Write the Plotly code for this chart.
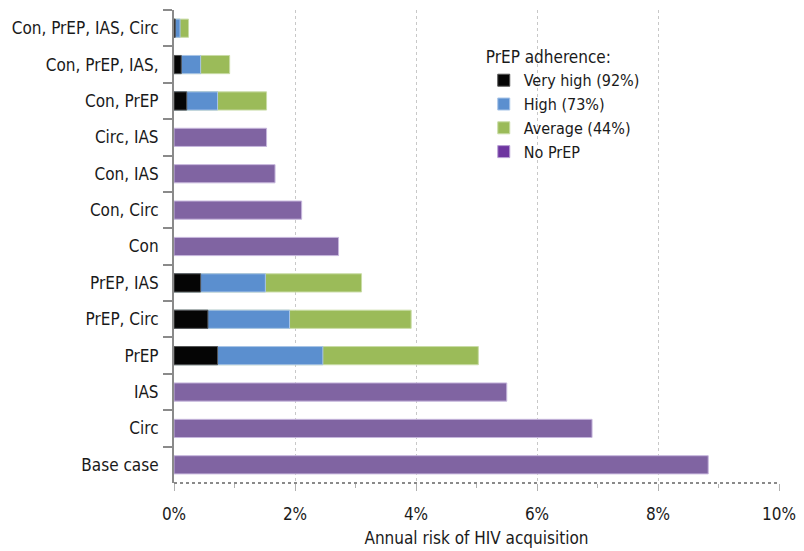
import plotly.graph_objects as go

# Categories, top to bottom as drawn
categories = ["Con, PrEP, IAS, Circ", "Con, PrEP, IAS,", "Con, PrEP", "Circ, IAS",
              "Con, IAS", "Con, Circ", "Con", "PrEP, IAS", "PrEP, Circ", "PrEP",
              "IAS", "Circ", "Base case"]

# Scenarios that include PrEP: annual risk (%) by adherence level
prep_categories = ["Con, PrEP, IAS, Circ", "Con, PrEP, IAS,", "Con, PrEP",
                   "PrEP, IAS", "PrEP, Circ", "PrEP"]
risk_very_high = [0.02, 0.12, 0.21, 0.44, 0.56, 0.72]
risk_high = [0.10, 0.44, 0.72, 1.51, 1.91, 2.46]
risk_average = [0.24, 0.92, 1.53, 3.10, 3.92, 5.03]

# Scenarios without PrEP
noprep_categories = ["Circ, IAS", "Con, IAS", "Con, Circ", "Con", "IAS", "Circ", "Base case"]
risk_no_prep = [1.53, 1.67, 2.11, 2.72, 5.50, 6.91, 8.83]

x_ticks = [0, 2, 4, 6, 8, 10]

FONT = "Liberation Sans Narrow, DejaVu Sans Condensed, Arial Narrow, sans-serif"
TXT = "#1a1a1a"

fig = go.Figure()

# Overlaid bars: longest (average) drawn first, shorter on top
fig.add_trace(go.Bar(y=prep_categories, x=risk_average, orientation="h",
                     name="Average (44%)", legendrank=3,
                     marker=dict(color="#9BBB59", line=dict(color="#c9dca6", width=1))))
fig.add_trace(go.Bar(y=prep_categories, x=risk_high, orientation="h",
                     name="High (73%)", legendrank=2,
                     marker=dict(color="#5B8FCF", line=dict(color="#a9c5e8", width=1))))
fig.add_trace(go.Bar(y=prep_categories, x=risk_very_high, orientation="h",
                     name="Very high (92%)", legendrank=1,
                     marker=dict(color="#050505", line=dict(color="#555555", width=1))))
fig.add_trace(go.Bar(y=noprep_categories, x=risk_no_prep, orientation="h",
                     name="No PrEP", showlegend=False,
                     marker=dict(color="#8064A2", line=dict(color="#c6b6dc", width=1))))
# legend entry for No PrEP (legend swatch is a deeper purple in the reference)
fig.add_trace(go.Bar(y=[None], x=[None], orientation="h", name="No PrEP", legendrank=4,
                     marker=dict(color="#6E35A0", line=dict(color="#b9a0d4", width=1))))

# The page body has an 8px default margin, so the figure is sized to fit the window
fig.update_layout(
    width=796, height=543,
    barmode="overlay", bargap=0.5,
    plot_bgcolor="white", paper_bgcolor="white",
    margin=dict(l=166, r=25, t=2, b=68),
    font=dict(family=FONT, size=17, color=TXT),
    showlegend=True,
    legend=dict(
        title=dict(text="PrEP adherence:", font=dict(size=17, color=TXT)),
        x=0.512, y=0.934, xanchor="left", yanchor="top",
        bgcolor="rgba(255,255,255,0)", font=dict(size=16, color=TXT),
        traceorder="normal", itemwidth=30, tracegroupgap=0,
    ),
    xaxis=dict(
        range=[0, 10], tickvals=x_ticks, ticktext=[f"{v}%" for v in x_ticks],
        showgrid=True, gridcolor="#c8c8c8", griddash="dot", gridwidth=1,
        zeroline=False, showline=False, automargin=False,
        ticks="outside", ticklen=7, tickcolor="#b0b0b0", tickwidth=1,
        minor=dict(dtick=1, ticks="outside", ticklen=4, tickcolor="#b0b0b0", showgrid=False),
        tickfont=dict(size=17, color=TXT), ticklabelstandoff=9,
        title=dict(text="Annual risk of HIV acquisition", font=dict(size=17, color=TXT), standoff=8),
    ),
    yaxis=dict(
        categoryorder="array", categoryarray=categories, autorange="reversed",
        showline=True, linecolor="#8a8a8a", linewidth=2, automargin=False,
        ticks="outside", tickson="boundaries", ticklen=9, tickcolor="#8a8a8a", tickwidth=2,
        showgrid=False, zeroline=False,
        tickfont=dict(size=17, color=TXT), ticklabelstandoff=10,
    ),
    shapes=[
        # white mask behind the legend hiding the 6% and 8% gridlines
        dict(type="rect", xref="x", yref="paper", x0=5.5, x1=9.0, y0=0.64, y1=1.0,
             fillcolor="white", line=dict(width=0), layer="between"),
        # dotted baseline at the bottom of the plot
        dict(type="line", xref="paper", yref="paper", x0=0, x1=1, y0=0, y1=0,
             line=dict(color="#8a8a8a", width=2, dash="dot"), layer="above"),
    ],
)

fig.write_html("out.html")
